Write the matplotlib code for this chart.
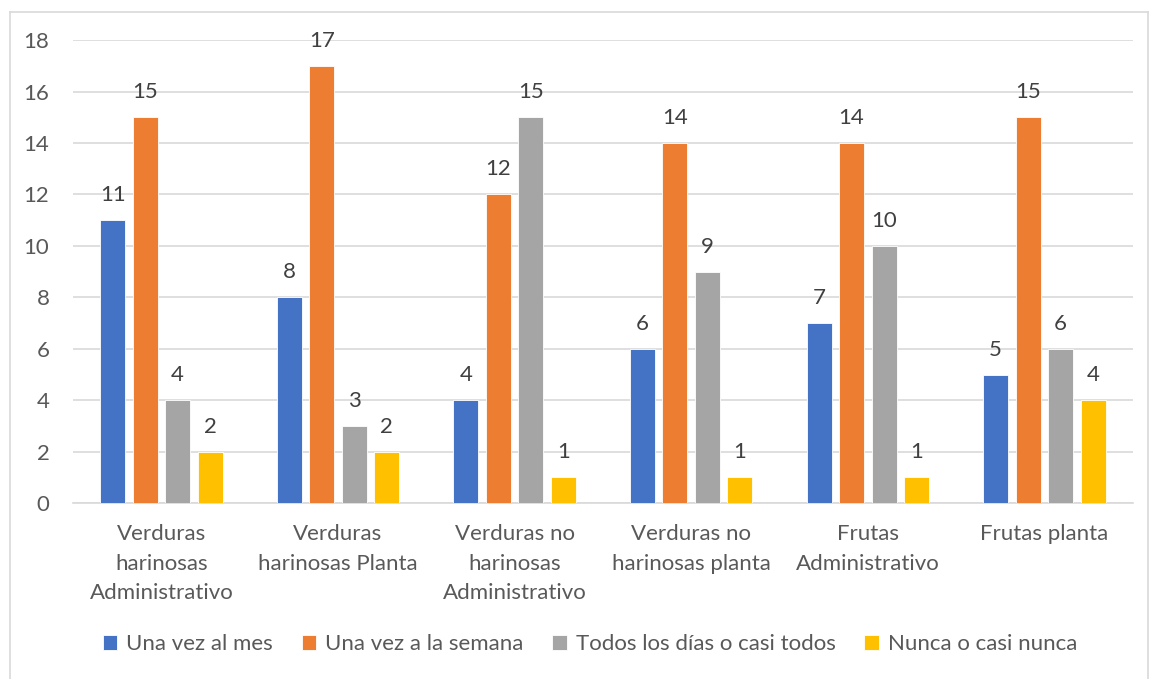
import numpy as np
import matplotlib.pyplot as plt
from matplotlib.lines import Line2D

categories = [
    "Verduras\nharinosas\nAdministrativo",
    "Verduras\nharinosas Planta",
    "Verduras no\nharinosas\nAdministrativo",
    "Verduras no\nharinosas planta",
    "Frutas\nAdministrativo",
    "Frutas planta",
]
series_names = ["Una vez al mes", "Una vez a la semana",
                "Todos los días o casi todos", "Nunca o casi nunca"]
una_vez_mes = [11, 8, 4, 6, 7, 5]
una_vez_semana = [15, 17, 12, 14, 14, 15]
todos_los_dias = [4, 3, 15, 9, 10, 6]
nunca = [2, 2, 1, 1, 1, 4]
colors = ["#4472C4", "#ED7D31", "#A5A5A5", "#FFC000"]

plt.rcParams['font.family'] = ['Lato', 'DejaVu Sans']
text_color = "#595959"
fs = 16

fig = plt.figure(figsize=(11.5, 6.79), dpi=100)
ax = fig.add_axes([0.0635, 0.259, 0.9215, 0.682])

x = np.arange(len(categories))
width = 0.1415
step = 0.184
all_series = [una_vez_mes, una_vez_semana, todos_los_dias, nunca]
for i, (vals, name, c) in enumerate(zip(all_series, series_names, colors)):
    pos = x + (i - 1.5) * step
    bars = ax.bar(pos, vals, width, color=c, label=name,
                  edgecolor="white", linewidth=0.6, zorder=3)
    for b, v in zip(bars, vals):
        ax.annotate(str(v), (b.get_x() + b.get_width() / 2, v),
                    xytext=(0, 18), textcoords="offset points",
                    ha="center", va="center", fontsize=fs, color="#404040")

ax.set_xlim(-0.5, len(categories) - 0.5)
ax.set_ylim(0, 18)
ax.set_yticks(range(0, 19, 2))
ax.yaxis.grid(True, color="#D9D9D9", linewidth=1.2, zorder=0)
ax.set_axisbelow(True)
for s in ["top", "right", "left"]:
    ax.spines[s].set_visible(False)
ax.spines["bottom"].set_color("#D9D9D9")
ax.spines["bottom"].set_linewidth(1.2)
ax.tick_params(axis="y", length=0, pad=17, labelsize=fs, labelcolor=text_color)
ax.tick_params(axis="x", length=0, pad=15, labelsize=fs, labelcolor=text_color)
ax.set_xticks(x)
ax.set_xticklabels(categories, linespacing=1.6, va="top")

leg = fig.legend(loc="center", bbox_to_anchor=(0.513, 0.051), ncol=4,
                 frameon=False, fontsize=fs, handlelength=0.65,
                 handleheight=0.65, handletextpad=0.4, columnspacing=1.3)
for t in leg.get_texts():
    t.set_color(text_color)

# light frame around the chart
frame_c = "#D9D9D9"
fig.add_artist(Line2D([10 / 1150, 10 / 1150], [0, 1 - 12 / 679],
                      transform=fig.transFigure, color=frame_c, lw=1.2))
fig.add_artist(Line2D([10 / 1150, 1148 / 1150], [1 - 12 / 679, 1 - 12 / 679],
                      transform=fig.transFigure, color=frame_c, lw=1.2))
fig.add_artist(Line2D([1148 / 1150, 1148 / 1150], [0, 1 - 12 / 679],
                      transform=fig.transFigure, color=frame_c, lw=1.2))

fig.savefig("out.png", dpi=100)
